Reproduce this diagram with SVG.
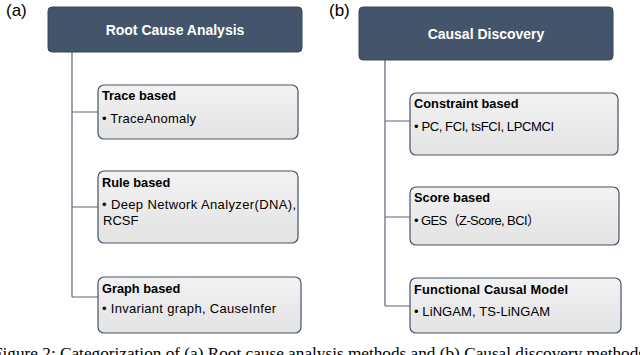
<svg xmlns="http://www.w3.org/2000/svg" width="640" height="355" viewBox="0 0 640 355">
<defs>
<linearGradient id="boxg" x1="0" y1="0" x2="0" y2="1">
<stop offset="0" stop-color="#f2f2f2"/>
<stop offset="1" stop-color="#e3e3e3"/>
</linearGradient>
</defs>
<style>
.hdr{fill:#44546A;stroke:#3a475a;stroke-width:1}
.hdrt{font-family:"Liberation Sans",Arial,sans-serif;font-size:14px;font-weight:bold;fill:#ffffff;text-anchor:middle}
.box{fill:url(#boxg);stroke:#44546A;stroke-width:1.2}
.ttl{font-family:"Liberation Sans",Arial,sans-serif;font-size:12.8px;font-weight:bold;fill:#000}
.itm{font-family:"Liberation Sans","Noto Sans CJK SC",Arial,sans-serif;font-size:13px;fill:#000}
.lbl{font-family:"Liberation Sans",Arial,sans-serif;font-size:17px;fill:#000}
.con{fill:none;stroke:#5b6678;stroke-width:1.2}
.cap{font-family:"Liberation Serif","Times New Roman",serif;font-size:17px;fill:#000}
</style>
<text class="lbl" x="6" y="16">(a)</text>
<text class="lbl" x="329" y="16">(b)</text>
<g id="connectors">
<path class="con" d="M72,52 V297 M72,112 H98 M72,207 H98 M72,297 H98"/>
<path class="con" d="M385,60 V306 M385,121 H410 M385,217 H410 M385,306 H410"/>
</g>
<g id="root-cause-analysis">
<rect class="hdr" x="48" y="7" width="254" height="45" rx="4"/>
<text class="hdrt" x="175" y="35">Root Cause Analysis</text>
</g>
<g id="trace-based">
<rect class="box" x="98" y="85" width="200" height="54" rx="6"/>
<text class="ttl" x="102" y="100">Trace based</text>
<text class="itm" x="102" y="123" textLength="94">• TraceAnomaly</text>
</g>
<g id="rule-based">
<rect class="box" x="98" y="171" width="200" height="72" rx="6"/>
<text class="ttl" x="102" y="187">Rule based</text>
<text class="itm" x="102" y="209" textLength="194">• Deep Network Analyzer(DNA),</text>
<text class="itm" x="103" y="225">RCSF</text>
</g>
<g id="graph-based">
<rect class="box" x="98" y="277" width="203" height="56" rx="6"/>
<text class="ttl" x="102" y="293">Graph based</text>
<text class="itm" x="102" y="313" textLength="174">• Invariant graph, CauseInfer</text>
</g>
<g id="causal-discovery">
<rect class="hdr" x="359" y="7" width="254" height="53" rx="4"/>
<text class="hdrt" x="486" y="39">Causal Discovery</text>
</g>
<g id="constraint-based">
<rect class="box" x="410" y="93" width="208" height="62" rx="6"/>
<text class="ttl" x="414" y="108">Constraint based</text>
<text class="itm" x="414" y="131" textLength="140">• PC, FCI, tsFCI, LPCMCI</text>
</g>
<g id="score-based">
<rect class="box" x="410" y="187" width="209" height="58" rx="6"/>
<text class="ttl" x="414" y="202">Score based</text>
<text class="itm" x="414" y="225" textLength="126">• GES（Z-Score, BCI）</text>
</g>
<g id="functional-causal-model">
<rect class="box" x="410" y="278" width="211" height="55" rx="6"/>
<text class="ttl" x="414" y="294" textLength="154">Functional Causal Model</text>
<text class="itm" x="414" y="316" textLength="136">• LiNGAM, TS-LiNGAM</text>
</g>
<text class="cap" x="-7" y="359" textLength="652" lengthAdjust="spacingAndGlyphs">Figure 2: Categorization of (a) Root cause analysis methods and (b) Causal discovery methods</text>
</svg>
